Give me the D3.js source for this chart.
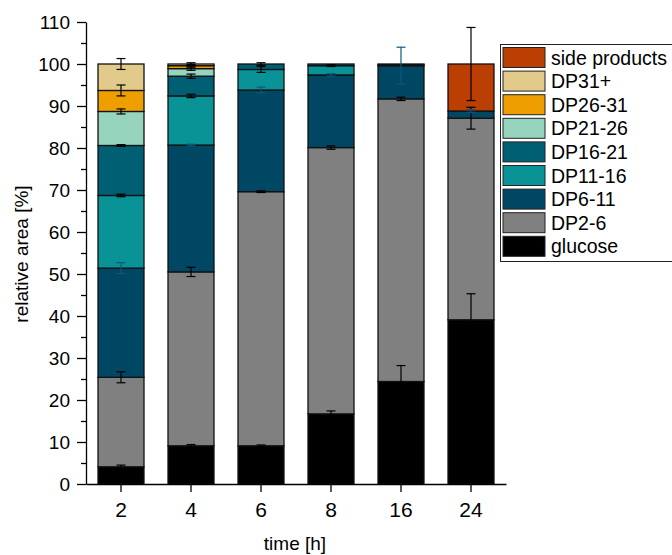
<!doctype html>
<html>
  <head>
    <meta charset="utf-8">
    <title>relative area vs time</title>
    <style>
      body { margin: 0; background: #fff; }
      svg { display: block; font-family: "Liberation Sans", Arial, sans-serif; }
      .axis path, .axis line { stroke: #000; stroke-width: 1.3px; }
      .axis text { fill: #000; }
    </style>
  </head>
  <body>
  <script src="https://cdn.jsdelivr.net/npm/d3@7"></script>
  <script>

    // categories (time in h)
    var times = ["2", "4", "6", "8", "16", "24"];

    // series, bottom to top
    var seriesNames = ["glucose", "DP2-6", "DP6-11", "DP11-16", "DP16-21", "DP21-26", "DP26-31", "DP31+", "side products"];
    var colors = ["#000000", "#808080", "#004764", "#0a9396", "#005f73", "#96d4bd", "#ef9e00", "#e2ca8a", "#bb3e03"];
    var errColors = ["#000", "#000", "#0e5878", "#000", "#000", "#000", "#000", "#000", "#000"];

    // segment values [%] per time point
    var glucose      = [4.1, 9.1, 9.1, 16.7, 24.4, 39.1];
    var dp2_6        = [21.3, 41.4, 60.5, 63.4, 67.3, 48.0];
    var dp6_11       = [26.0, 30.2, 24.2, 17.3, 7.9, 1.7];
    var dp11_16      = [17.3, 11.7, 4.9, 2.2, 0.2, 0];
    var dp16_21      = [11.9, 4.7, 1.3, 0.4, 0.2, 0];
    var dp21_26      = [8.1, 1.8, 0, 0, 0, 0];
    var dp26_31      = [5.0, 0.7, 0, 0, 0, 0];
    var dp31plus     = [6.3, 0.4, 0, 0, 0, 0];
    var sideProducts = [0, 0, 0, 0, 0, 11.2];

    // standard deviations
    var glucoseErr = [0.4, 0.3, 0.2, 0.7, 3.8, 6.2];
    var dp2_6Err   = [1.3, 1.1, 0.2, 0.4, 0.4, 2.6];
    var dp6_11Err  = [1.3, 0.2, 0.7, 0.3, 4.4, 0.3];
    var dp11_16Err = [0.3, 0.4, 0.7, 0.2, 0, 0];
    var dp16_21Err = [0.2, 0.5, 0.3, 0, 0, 0];
    var dp21_26Err = [0.6, 0.4, 0, 0, 0, 0];
    var dp26_31Err = [1.3, 0.3, 0, 0, 0, 0];
    var dp31Err    = [1.3, 0.3, 0, 0, 0, 0];
    var sideErr    = [0, 0, 0, 0, 0, 8.7];

    var yTicks = [0, 10, 20, 30, 40, 50, 60, 70, 80, 90, 100, 110];

    var values = [glucose, dp2_6, dp6_11, dp11_16, dp16_21, dp21_26, dp26_31, dp31plus, sideProducts];
    var errors = [glucoseErr, dp2_6Err, dp6_11Err, dp11_16Err, dp16_21Err, dp21_26Err, dp26_31Err, dp31Err, sideErr];

    var width = 672, height = 555;

    var svg = d3.select("body").append("svg")
      .attr("width", width)
      .attr("height", height);

    var x = d3.scaleBand()
      .domain(times)
      .range([86, 506])
      .paddingInner(0.343)
      .paddingOuter(0.1715);

    var y = d3.scaleLinear()
      .domain([0, 110])
      .range([484, 22]);

    // table for stacking
    var table = times.map(function(t, i) {
      var row = { time: t };
      seriesNames.forEach(function(s, k) { row[s] = values[k][i]; });
      return row;
    });

    var stacked = d3.stack().keys(seriesNames)(table);

    var layers = svg.append("g").selectAll("g")
      .data(stacked)
      .enter().append("g")
        .attr("fill", function(d, k) { return colors[k]; });

    layers.selectAll("rect")
      .data(function(d) { return d.filter(function(p) { return p[1] - p[0] > 0; }); })
      .enter().append("rect")
        .attr("x", function(p) { return x(p.data.time); })
        .attr("width", x.bandwidth())
        .attr("y", function(p) { return y(p[1]); })
        .attr("height", function(p) { return y(p[0]) - y(p[1]); })
        .attr("stroke", "#111")
        .attr("stroke-width", 1.3);

    // error bars on top of everything
    var errG = svg.append("g");
    stacked.forEach(function(layer, k) {
      layer.forEach(function(p, i) {
        var e = errors[k][i];
        if (!(p[1] - p[0] > 0) || !e) return;
        var cx = x(p.data.time) + x.bandwidth() / 2;
        var g = errG.append("g").attr("stroke", errColors[k]).attr("stroke-width", 1.2);
        g.append("line").attr("x1", cx).attr("x2", cx).attr("y1", y(p[1] - e)).attr("y2", y(p[1] + e));
        [p[1] - e, p[1] + e].forEach(function(v) {
          g.append("line").attr("x1", cx - 4.5).attr("x2", cx + 4.5).attr("y1", y(v)).attr("y2", y(v));
        });
      });
    });

    // axes
    svg.append("g")
      .attr("class", "axis")
      .attr("transform", "translate(86,0)")
      .call(d3.axisLeft(y).tickValues(d3.range(5, 110, 10)).tickSize(5).tickFormat(""))
      .call(function(g) { g.select(".domain").remove(); });

    svg.append("g")
      .attr("class", "axis")
      .attr("transform", "translate(86,0)")
      .call(d3.axisLeft(y).tickValues(yTicks).tickSize(9).tickSizeOuter(0).tickPadding(7))
      .selectAll("text")
        .style("font-size", "19px");

    svg.append("g")
      .attr("class", "axis")
      .attr("transform", "translate(0,484)")
      .call(d3.axisBottom(x).tickSize(8).tickSizeOuter(0).tickPadding(10))
      .selectAll("text")
        .style("font-size", "21px");

    svg.append("text")
      .attr("transform", "translate(28,254) rotate(-90)")
      .attr("text-anchor", "middle")
      .style("font-size", "19px")
      .text("relative area [%]");

    svg.append("text")
      .attr("x", 295)
      .attr("y", 550)
      .attr("text-anchor", "middle")
      .style("font-size", "19px")
      .text("time [h]");

    // legend, top entry first
    var legend = svg.append("g");
    legend.append("rect")
      .attr("x", 500.5).attr("y", 44.5)
      .attr("width", 180).attr("height", 217)
      .attr("fill", "#fff")
      .attr("stroke", "#222")
      .attr("stroke-width", 1);

    var order = d3.range(seriesNames.length).reverse();
    var items = legend.selectAll("g.item")
      .data(order)
      .enter().append("g")
        .attr("class", "item")
        .attr("transform", function(k, j) { return "translate(503," + (47.5 + j * 23.6) + ")"; });

    items.append("rect")
      .attr("width", 42).attr("height", 20)
      .attr("fill", function(k) { return colors[k]; })
      .attr("stroke", "#222");

    items.append("text")
      .attr("x", 48)
      .attr("y", 17)
      .style("font-size", "19.5px")
      .text(function(k) { return seriesNames[k]; });

  </script>
  </body>
</html>
